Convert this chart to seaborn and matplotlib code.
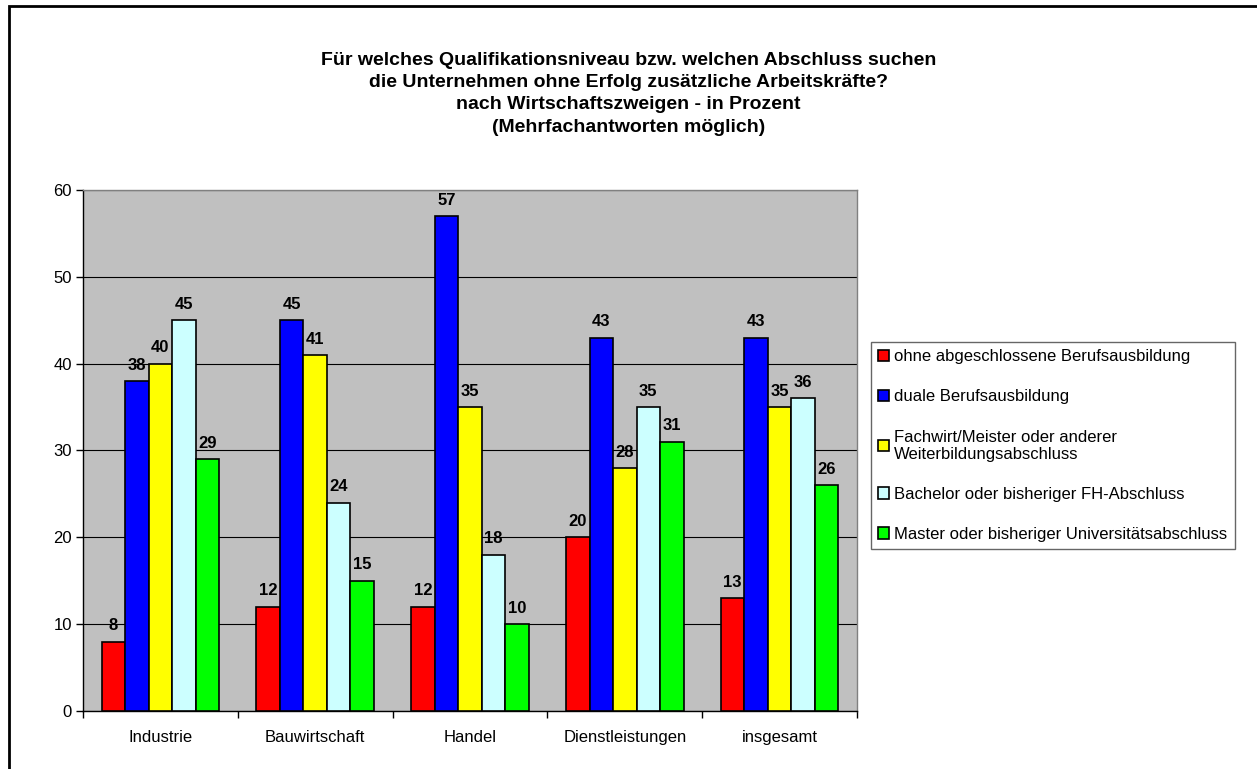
import matplotlib
matplotlib.use("Agg")
import matplotlib.pyplot as plt
import seaborn as sns
import pandas as pd
from matplotlib.patches import Rectangle

categories = ["Industrie", "Bauwirtschaft", "Handel", "Dienstleistungen", "insgesamt"]
series_names = [
    "ohne abgeschlossene Berufsausbildung",
    "duale Berufsausbildung",
    "Fachwirt/Meister oder anderer\nWeiterbildungsabschluss",
    "Bachelor oder bisheriger FH-Abschluss",
    "Master oder bisheriger Universitätsabschluss",
]
ohne = [8, 12, 12, 20, 13]
duale = [38, 45, 57, 43, 43]
fachwirt = [40, 41, 35, 28, 35]
bachelor = [45, 24, 18, 35, 36]
master = [29, 15, 10, 31, 26]
colors = ["#FF0000", "#0000FF", "#FFFF00", "#CCFFFF", "#00FF00"]
title = ("Für welches Qualifikationsniveau bzw. welchen Abschluss suchen\n"
         "die Unternehmen ohne Erfolg zusätzliche Arbeitskräfte?\n"
         "nach Wirtschaftszweigen - in Prozent\n"
         "(Mehrfachantworten möglich)")

rows = []
for name, vals in zip(series_names, [ohne, duale, fachwirt, bachelor, master]):
    for c, v in zip(categories, vals):
        rows.append({"Kategorie": c, "Serie": name, "Wert": v})
df = pd.DataFrame(rows)

sns.set_theme(style="white")
plt.rcParams["font.family"] = ["Liberation Sans", "DejaVu Sans"]
plt.rcParams["text.color"] = "black"
plt.rcParams["axes.labelcolor"] = "black"
plt.rcParams["xtick.color"] = "black"
plt.rcParams["ytick.color"] = "black"

fig = plt.figure(figsize=(12.57, 7.69), dpi=100)
ax = fig.add_axes([83 / 1257, 1 - 711 / 769, (857 - 83) / 1257, (711 - 190) / 769])
ax.set_facecolor("#C0C0C0")

sns.barplot(data=df, x="Kategorie", y="Wert", hue="Serie", hue_order=series_names,
            order=categories, palette=colors, width=0.76, gap=0,
            edgecolor="black", linewidth=1.2, saturation=1, ax=ax, legend=True,
            errorbar=None, zorder=3)

for cont in ax.containers:
    ax.bar_label(cont, fmt="%d", padding=6, fontsize=12, fontweight="bold", color="black")

ax.set_ylim(0, 60)
ax.set_xlim(-0.5, 4.5)
ax.set_yticks(range(0, 61, 10))
ax.yaxis.grid(True, color="black", linewidth=0.8, zorder=0)
ax.set_axisbelow(True)
ax.set_xlabel("")
ax.set_ylabel("")
ax.set_xticks([i + 0.5 for i in range(-1, 5)])
ax.set_xticklabels([])
ax.set_xticks(range(5), minor=True)
ax.set_xticklabels(categories, minor=True, fontsize=12)
ax.tick_params(axis="x", which="minor", length=0, pad=14)
ax.tick_params(axis="x", which="major", length=5, width=1, color="black", direction="out", bottom=True)
ax.tick_params(axis="y", length=5, width=1, color="black", direction="out", left=True, labelsize=12, pad=3)
for s in ["left", "bottom"]:
    ax.spines[s].set_color("black")
    ax.spines[s].set_linewidth(1)
for s in ["top", "right"]:
    ax.spines[s].set_color("#808080")
    ax.spines[s].set_linewidth(1)

handles, labels = ax.get_legend_handles_labels()
ax.legend_.remove()
leg = fig.legend(handles, labels, loc="upper left", bbox_to_anchor=(871 / 1257, 1 - 342 / 769),
                 fontsize=12, frameon=True, fancybox=False, edgecolor="black",
                 handlelength=0.65, handleheight=0.65, handletextpad=0.3, labelspacing=1.5,
                 borderpad=0.45, borderaxespad=0)
leg.get_frame().set_linewidth(1)
leg.get_frame().set_edgecolor("#404040")

fig.text(0.5, 1 - 52 / 769, title, ha="center", va="top", fontsize=14,
         fontweight="bold", linespacing=1.4)

fig.patches.append(Rectangle((9 / 1257, -0.1), 1.2, 1 - 6 / 769 + 0.1, transform=fig.transFigure,
                             fill=False, edgecolor="black", linewidth=2, figure=fig))

fig.savefig("out.png", dpi=100, facecolor="white")
